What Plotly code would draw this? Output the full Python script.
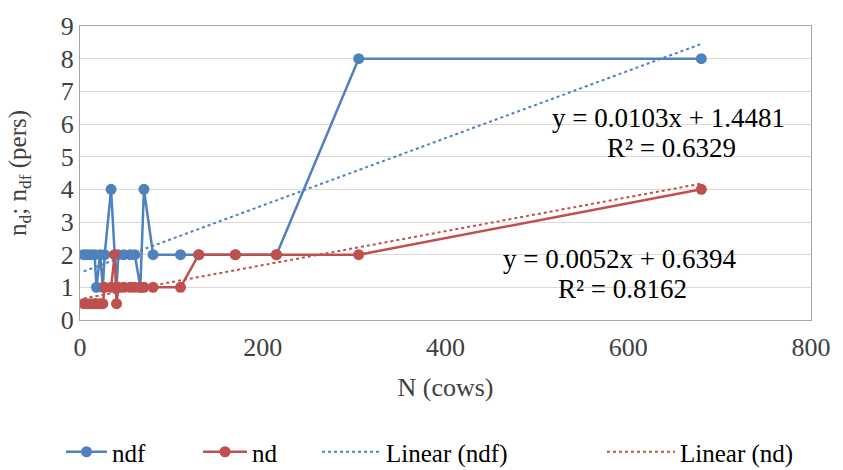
import plotly.graph_objects as go

# ---- data ----
N_cows = [4, 8, 12, 16, 18, 22, 25, 27, 34, 38, 40, 42, 48, 55, 60, 66, 70, 80, 110, 130, 170, 215, 305, 680]
ndf    = [2, 2, 2, 2, 1, 2, 1, 2, 4, 2, 1, 2, 2, 2, 2, 1, 4, 2, 2, 2, 2, 2, 8, 8]
nd     = [0.5, 0.5, 0.5, 0.5, 0.5, 0.5, 0.5, 1, 1, 2, 0.5, 1, 1, 1, 1, 1, 1, 1, 1, 2, 2, 2, 2, 4]

trend_ndf = {"slope": 0.0103, "intercept": 1.4481, "r2": 0.6329}
trend_nd = {"slope": 0.0052, "intercept": 0.6394, "r2": 0.8162}

x_ticks = [0, 200, 400, 600, 800]
y_ticks = [0, 1, 2, 3, 4, 5, 6, 7, 8, 9]

BLUE = "#4f81bd"
RED = "#c0504d"
FONT = "Liberation Serif, Times New Roman, serif"
TXT = "#404040"

xmin, xmax = min(N_cows), max(N_cows)
trend_x = [xmin, xmax]

fig = go.Figure()
fig.add_trace(go.Scatter(x=N_cows, y=ndf, mode="lines+markers", name="ndf",
                         line=dict(color=BLUE, width=2.5), marker=dict(size=11, color=BLUE),
                         legend="legend"))
fig.add_trace(go.Scatter(x=N_cows, y=nd, mode="lines+markers", name="nd",
                         line=dict(color=RED, width=2.5), marker=dict(size=11, color=RED),
                         legend="legend2"))
fig.add_trace(go.Scatter(x=trend_x, y=[trend_ndf["slope"] * v + trend_ndf["intercept"] for v in trend_x],
                         mode="lines", name="Linear (ndf)",
                         line=dict(color=BLUE, width=2, dash="dot"), legend="legend3"))
fig.add_trace(go.Scatter(x=trend_x, y=[trend_nd["slope"] * v + trend_nd["intercept"] for v in trend_x],
                         mode="lines", name="Linear (nd)",
                         line=dict(color=RED, width=2, dash="dot"), legend="legend4"))

L, R, T, B = 80, 22, 17, 150
W, H = 843, 470
pw, ph = W - L - R, H - T - B

def px_to_paper(px, py):
    return (px - L) / pw, 1 - (py - T) / ph

EQ_FONT = dict(family=FONT, size=27, color="#000")
for t, (x1, y1, x2, y2) in [(trend_ndf, (677, 112, 680, 143)), (trend_nd, (627, 257, 630, 288))]:
    ax, ay = px_to_paper(x1, y1)
    fig.add_annotation(x=ax, y=ay, xref="paper", yref="paper",
                       text=f"y = {t['slope']:.4f}x + {t['intercept']:.4f}", showarrow=False,
                       font=EQ_FONT, xanchor="center", yanchor="middle")
    bx, by = px_to_paper(x2, y2)
    fig.add_annotation(x=bx, y=by, xref="paper", yref="paper",
                       text=f"R² = {t['r2']:.4f}", showarrow=False,
                       font=EQ_FONT, xanchor="center", yanchor="middle")

leg_common = dict(orientation="h", xref="container", yref="container", yanchor="middle",
                  xanchor="left", bgcolor="rgba(0,0,0,0)", font=dict(family=FONT, size=25, color="#000"))

fig.update_layout(
    width=W, height=H,
    showlegend=True,
    margin=dict(l=L, r=R, t=T, b=B),
    paper_bgcolor="white", plot_bgcolor="white",
    font=dict(family=FONT, size=26, color=TXT),
    legend=dict(x=61 / W, y=1 - 452 / H, itemwidth=41, **leg_common),
    legend2=dict(x=198 / W, y=1 - 452 / H, itemwidth=44, **leg_common),
    legend3=dict(x=317 / W, y=1 - 452 / H, itemwidth=59, **leg_common),
    legend4=dict(x=602 / W, y=1 - 452 / H, itemwidth=68, **leg_common),
    xaxis=dict(range=[0, 800], tickvals=x_ticks, ticktext=[str(v) for v in x_ticks],
               showgrid=False, zeroline=False, showline=True, mirror=True,
               linecolor="#a6a6a6", linewidth=1, ticks="", ticklabelstandoff=4,
               tickfont=dict(family=FONT, size=26, color=TXT),
               title=dict(text="N (cows)", font=dict(family=FONT, size=26, color=TXT), standoff=16)),
    yaxis=dict(range=[0, 9], tickvals=y_ticks, ticktext=[str(v) for v in y_ticks],
               showgrid=True, gridcolor="#d9d9d9", gridwidth=1, zeroline=False,
               showline=True, mirror=True, linecolor="#a6a6a6", linewidth=1, ticks="",
               tickfont=dict(family=FONT, size=26, color=TXT),
               title=dict(text="n<sub>d</sub>; n<sub>df</sub> (pers)", font=dict(family=FONT, size=25, color=TXT), standoff=27)),
)

fig.write_html("out.html")
